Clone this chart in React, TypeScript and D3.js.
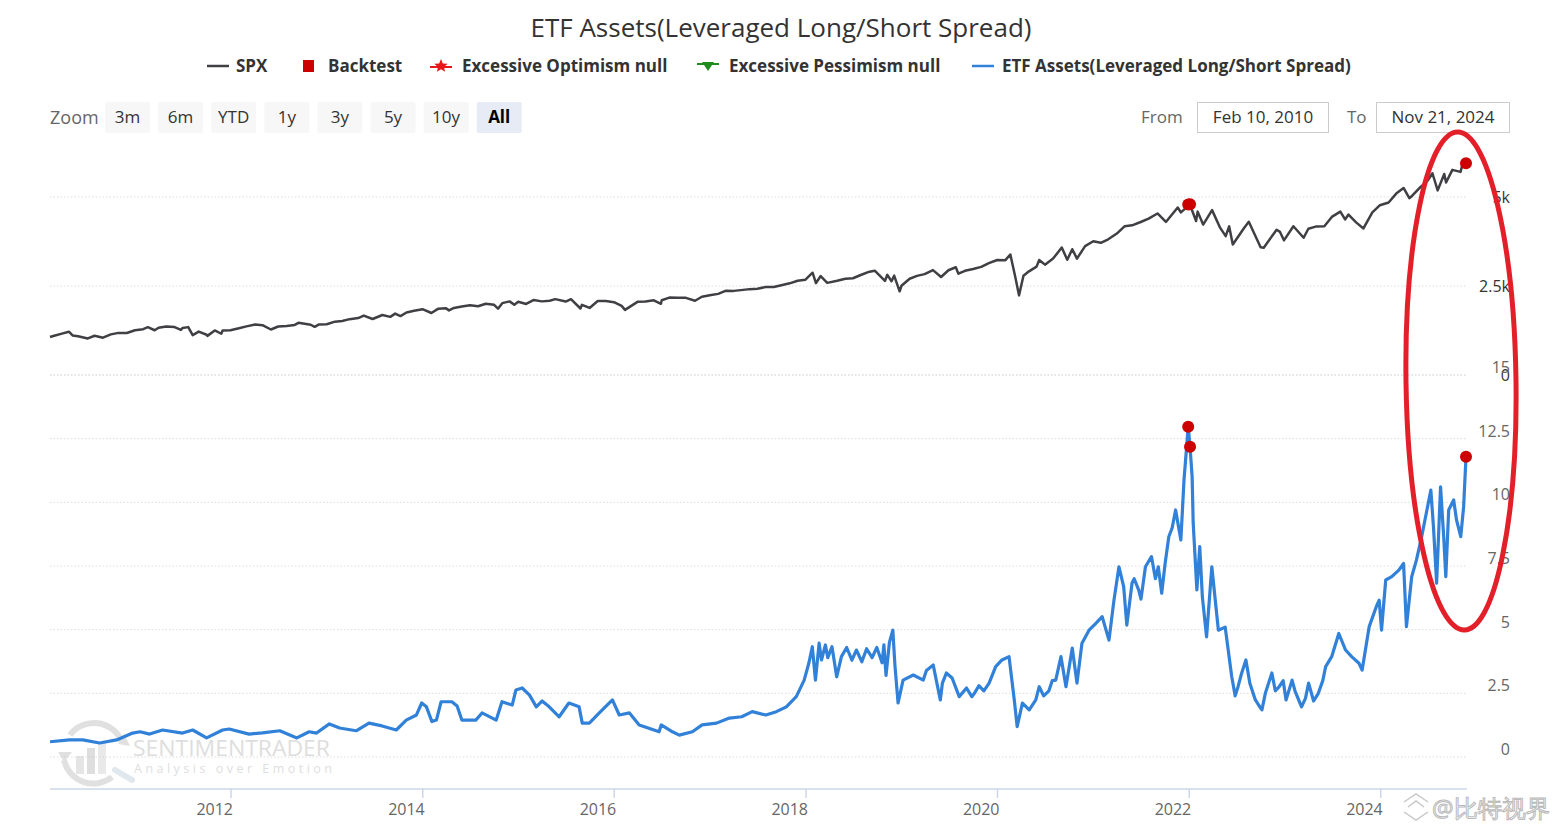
import React from "react";
import * as d3 from "d3";

const startDate = "2010-02-10";
const endDate = "2024-11-21";

const spx: [string, number][] = [
  ["2010-02-10", 1068], ["2010-02-26", 1104], ["2010-03-31", 1169], ["2010-04-23", 1217], ["2010-05-07", 1111],
  ["2010-05-28", 1089], ["2010-06-30", 1031], ["2010-07-02", 1022], ["2010-07-30", 1102], ["2010-08-31", 1049],
  ["2010-09-30", 1141], ["2010-10-29", 1183], ["2010-11-30", 1181], ["2010-12-31", 1258], ["2011-01-31", 1286],
  ["2011-02-18", 1343], ["2011-03-16", 1257], ["2011-03-31", 1326], ["2011-04-29", 1364], ["2011-05-31", 1345],
  ["2011-06-24", 1268], ["2011-06-30", 1321], ["2011-07-22", 1345], ["2011-08-08", 1119], ["2011-08-31", 1219],
  ["2011-09-30", 1131], ["2011-10-03", 1099], ["2011-10-31", 1253], ["2011-11-25", 1159], ["2011-11-30", 1247],
  ["2011-12-30", 1258], ["2012-01-31", 1312], ["2012-02-29", 1366], ["2012-04-02", 1419], ["2012-04-30", 1398],
  ["2012-06-01", 1278], ["2012-06-29", 1362], ["2012-07-31", 1379], ["2012-08-31", 1407], ["2012-09-14", 1465],
  ["2012-10-31", 1412], ["2012-11-15", 1353], ["2012-11-30", 1416], ["2012-12-31", 1426], ["2013-01-31", 1498],
  ["2013-02-28", 1515], ["2013-03-28", 1569], ["2013-04-30", 1598], ["2013-05-21", 1669], ["2013-06-24", 1573],
  ["2013-07-31", 1686], ["2013-08-30", 1633], ["2013-09-18", 1725], ["2013-10-08", 1655], ["2013-10-31", 1757],
  ["2013-11-29", 1806], ["2013-12-31", 1848], ["2014-02-03", 1742], ["2014-02-28", 1859], ["2014-03-31", 1872],
  ["2014-04-11", 1815], ["2014-04-30", 1884], ["2014-05-30", 1924], ["2014-06-30", 1960], ["2014-07-31", 1931],
  ["2014-08-29", 2003], ["2014-09-30", 1972], ["2014-10-15", 1862], ["2014-10-31", 2018], ["2014-11-28", 2068],
  ["2014-12-16", 1973], ["2014-12-31", 2059], ["2015-01-30", 1995], ["2015-02-27", 2105], ["2015-03-31", 2068],
  ["2015-04-30", 2086], ["2015-05-21", 2131], ["2015-06-30", 2063], ["2015-07-20", 2129], ["2015-08-25", 1868],
  ["2015-08-31", 1972], ["2015-09-29", 1884], ["2015-10-30", 2079], ["2015-11-30", 2080], ["2015-12-31", 2044],
  ["2016-01-29", 1940], ["2016-02-11", 1829], ["2016-03-31", 2060], ["2016-04-29", 2065], ["2016-05-31", 2097],
  ["2016-06-27", 2001], ["2016-06-30", 2099], ["2016-07-29", 2174], ["2016-08-31", 2171], ["2016-09-30", 2168],
  ["2016-11-04", 2085], ["2016-11-30", 2199], ["2016-12-30", 2239], ["2017-01-31", 2279], ["2017-02-28", 2364],
  ["2017-03-31", 2363], ["2017-04-28", 2384], ["2017-05-31", 2412], ["2017-06-30", 2423], ["2017-07-31", 2470],
  ["2017-08-31", 2472], ["2017-09-29", 2519], ["2017-10-31", 2575], ["2017-11-30", 2648], ["2017-12-29", 2674],
  ["2018-01-26", 2873], ["2018-02-08", 2581], ["2018-02-26", 2780], ["2018-03-23", 2588], ["2018-04-30", 2648],
  ["2018-05-31", 2705], ["2018-06-29", 2718], ["2018-07-31", 2816], ["2018-08-31", 2902], ["2018-09-20", 2931],
  ["2018-10-29", 2641], ["2018-11-07", 2814], ["2018-11-23", 2633], ["2018-12-03", 2790], ["2018-12-24", 2351],
  ["2018-12-31", 2507], ["2019-01-31", 2704], ["2019-02-28", 2784], ["2019-03-29", 2834], ["2019-04-30", 2946],
  ["2019-05-31", 2752], ["2019-06-28", 2942], ["2019-07-26", 3026], ["2019-08-05", 2845], ["2019-08-30", 2926],
  ["2019-09-30", 2977], ["2019-10-31", 3038], ["2019-11-29", 3141], ["2019-12-31", 3231], ["2020-01-31", 3226],
  ["2020-02-19", 3386], ["2020-03-09", 2747], ["2020-03-23", 2237], ["2020-04-09", 2790], ["2020-04-30", 2912],
  ["2020-05-29", 3044], ["2020-06-08", 3232], ["2020-06-30", 3100], ["2020-07-31", 3271], ["2020-09-02", 3580],
  ["2020-09-23", 3237], ["2020-10-12", 3534], ["2020-10-30", 3270], ["2020-11-30", 3622], ["2020-12-31", 3756],
  ["2021-01-29", 3714], ["2021-02-26", 3811], ["2021-03-31", 3973], ["2021-04-30", 4181], ["2021-05-28", 4204],
  ["2021-06-30", 4298], ["2021-07-30", 4395], ["2021-09-02", 4537], ["2021-10-04", 4300], ["2021-11-18", 4705],
  ["2021-11-30", 4567], ["2021-12-31", 4766], ["2022-01-03", 4797], ["2022-01-27", 4326], ["2022-02-02", 4589],
  ["2022-02-23", 4225], ["2022-03-29", 4631], ["2022-04-29", 4132], ["2022-05-20", 3901], ["2022-06-02", 4176],
  ["2022-06-16", 3667], ["2022-07-29", 4130], ["2022-08-16", 4305], ["2022-09-30", 3586], ["2022-10-12", 3577],
  ["2022-11-30", 4080], ["2022-12-13", 4019], ["2022-12-28", 3783], ["2023-02-02", 4179], ["2023-03-13", 3855],
  ["2023-03-31", 4109], ["2023-04-28", 4169], ["2023-05-31", 4180], ["2023-06-30", 4450], ["2023-07-31", 4589],
  ["2023-08-18", 4370], ["2023-08-31", 4508], ["2023-09-29", 4288], ["2023-10-27", 4117], ["2023-11-30", 4568],
  ["2023-12-29", 4770], ["2024-01-31", 4846], ["2024-02-29", 5096], ["2024-03-28", 5254], ["2024-04-19", 4967],
  ["2024-04-30", 5036], ["2024-05-31", 5278], ["2024-06-28", 5460], ["2024-07-16", 5667], ["2024-08-05", 5186],
  ["2024-08-30", 5648], ["2024-09-06", 5408], ["2024-09-30", 5762], ["2024-10-31", 5705], ["2024-11-11", 6001],
  ["2024-11-15", 5870], ["2024-11-21", 5948],
];

const etf: [string, number][] = [
  ["2010-02-10", 0.60], ["2010-04-25", 0.67], ["2010-06-15", 0.67], ["2010-08-18", 0.55], ["2010-10-22", 0.67],
  ["2010-12-22", 0.94], ["2011-01-19", 0.99], ["2011-02-25", 0.90], ["2011-04-15", 1.06], ["2011-06-30", 0.94],
  ["2011-08-08", 1.06], ["2011-09-30", 0.75], ["2011-11-30", 1.06], ["2011-12-25", 1.10], ["2012-03-10", 0.90],
  ["2012-04-30", 0.95], ["2012-07-05", 1.03], ["2012-09-08", 0.75], ["2012-10-25", 0.99], ["2012-11-22", 0.94],
  ["2013-01-10", 1.30], ["2013-02-18", 1.14], ["2013-04-22", 1.03], ["2013-06-10", 1.33], ["2013-07-30", 1.22],
  ["2013-09-22", 1.06], ["2013-10-30", 1.45], ["2013-12-08", 1.65], ["2013-12-28", 2.12], ["2014-01-15", 1.97],
  ["2014-02-05", 1.39], ["2014-02-22", 1.45], ["2014-03-12", 2.17], ["2014-04-22", 2.17], ["2014-05-12", 2.00],
  ["2014-05-30", 1.45], ["2014-07-22", 1.45], ["2014-08-15", 1.73], ["2014-10-08", 1.45], ["2014-10-30", 2.17],
  ["2014-12-08", 2.04], ["2014-12-22", 2.63], ["2015-01-15", 2.71], ["2015-02-12", 2.43], ["2015-03-10", 1.97],
  ["2015-04-01", 2.20], ["2015-04-28", 1.97], ["2015-06-05", 1.58], ["2015-07-12", 2.12], ["2015-08-20", 1.97],
  ["2015-09-01", 1.33], ["2015-09-28", 1.33], ["2015-11-05", 1.73], ["2015-12-25", 2.24], ["2016-01-20", 1.65],
  ["2016-02-28", 1.73], ["2016-04-05", 1.26], ["2016-05-12", 1.13], ["2016-06-20", 0.99], ["2016-06-28", 1.26],
  ["2016-08-10", 0.99], ["2016-09-05", 0.86], ["2016-10-25", 0.99], ["2016-12-01", 1.26], ["2017-01-25", 1.33],
  ["2017-03-15", 1.53], ["2017-05-01", 1.58], ["2017-06-10", 1.78], ["2017-08-01", 1.65], ["2017-09-10", 1.78],
  ["2017-10-18", 1.97], ["2017-11-25", 2.37], ["2017-12-25", 3.02], ["2018-01-12", 3.69], ["2018-01-25", 4.33],
  ["2018-02-06", 3.02], ["2018-02-20", 4.47], ["2018-03-01", 3.81], ["2018-03-16", 4.40], ["2018-03-25", 3.90],
  ["2018-04-10", 4.33], ["2018-04-28", 3.15], ["2018-05-16", 3.94], ["2018-06-05", 4.30], ["2018-06-25", 3.80],
  ["2018-07-12", 4.20], ["2018-08-02", 3.74], ["2018-08-20", 4.25], ["2018-09-10", 3.90], ["2018-09-28", 4.30],
  ["2018-10-18", 3.70], ["2018-10-25", 4.40], ["2018-11-02", 3.20], ["2018-11-15", 4.50], ["2018-11-28", 4.98],
  ["2018-12-06", 3.60], ["2018-12-18", 2.12], ["2019-01-06", 3.02], ["2019-02-14", 3.22], ["2019-03-24", 3.02],
  ["2019-04-05", 3.40], ["2019-05-01", 3.61], ["2019-05-28", 2.24], ["2019-06-05", 2.90], ["2019-06-20", 3.30],
  ["2019-07-12", 3.10], ["2019-08-08", 2.37], ["2019-09-05", 2.71], ["2019-09-25", 2.37], ["2019-10-05", 2.50],
  ["2019-10-22", 2.80], ["2019-11-10", 2.60], ["2019-11-30", 2.90], ["2019-12-25", 3.55],
  ["2020-01-18", 3.81], ["2020-02-14", 3.94], ["2020-03-05", 2.24], ["2020-03-16", 1.19], ["2020-04-05", 2.12],
  ["2020-05-01", 1.85], ["2020-05-26", 2.24], ["2020-06-08", 2.76], ["2020-06-25", 2.40], ["2020-07-15", 2.60],
  ["2020-07-28", 3.00], ["2020-08-10", 3.02],
  ["2020-08-30", 3.94], ["2020-09-18", 2.76], ["2020-10-12", 4.28], ["2020-10-30", 2.90], ["2020-11-18", 4.47],
  ["2020-12-15", 4.98], ["2021-01-10", 5.25], ["2021-02-03", 5.51], ["2021-03-01", 4.59], ["2021-03-20", 6.16],
  ["2021-04-08", 7.47], ["2021-04-26", 6.69], ["2021-05-08", 5.18], ["2021-05-28", 6.83], ["2021-06-05", 7.00],
  ["2021-06-22", 6.56], ["2021-07-01", 6.20], ["2021-07-18", 7.47], ["2021-08-10", 7.87], ["2021-08-25", 7.00],
  ["2021-09-05", 7.47], ["2021-09-18", 6.43], ["2021-10-01", 7.60], ["2021-10-15", 8.65], ["2021-10-28", 9.00],
  ["2021-11-10", 9.70], ["2021-11-30", 8.52], ["2021-12-12", 10.88], ["2021-12-22", 12.18], ["2021-12-28", 12.97],
  ["2022-01-04", 12.18], ["2022-01-12", 11.00], ["2022-01-16", 9.19], ["2022-01-30", 6.56], ["2022-02-10", 8.26],
  ["2022-02-20", 6.29], ["2022-03-08", 4.72], ["2022-03-28", 7.47], ["2022-04-22", 4.98], ["2022-05-18", 5.10],
  ["2022-06-12", 3.15], ["2022-06-25", 2.40], ["2022-07-06", 2.76], ["2022-07-20", 3.30], ["2022-08-05", 3.81],
  ["2022-08-20", 2.90], ["2022-09-10", 2.24], ["2022-09-30", 1.92], ["2022-10-05", 1.85],
  ["2022-10-18", 2.50], ["2022-11-12", 3.30], ["2022-11-25", 2.60], ["2022-12-10", 2.76], ["2022-12-25", 3.00],
  ["2023-01-05", 2.24], ["2023-01-28", 3.02], ["2023-02-08", 2.60],
  ["2023-02-22", 2.24], ["2023-03-05", 1.97], ["2023-03-20", 2.30], ["2023-04-01", 2.90], ["2023-04-20", 2.20],
  ["2023-05-08", 2.50], ["2023-05-25", 3.00], ["2023-06-05", 3.55],
  ["2023-06-28", 3.94], ["2023-07-25", 4.85], ["2023-08-20", 4.20], ["2023-09-12", 3.94], ["2023-10-10", 3.68],
  ["2023-10-22", 3.41], ["2023-11-18", 5.12], ["2023-12-15", 5.90], ["2023-12-26", 6.16], ["2024-01-04", 4.98],
  ["2024-01-20", 6.95], ["2024-02-12", 7.08], ["2024-03-10", 7.34], ["2024-03-28", 7.60], ["2024-04-08", 5.12],
  ["2024-04-28", 7.08], ["2024-05-16", 7.73], ["2024-06-05", 8.65], ["2024-06-25", 9.70], ["2024-07-10", 10.48],
  ["2024-07-20", 9.04], ["2024-08-01", 6.83], ["2024-08-16", 10.61], ["2024-08-28", 8.65], ["2024-09-05", 7.08],
  ["2024-09-16", 9.70], ["2024-10-05", 10.09], ["2024-10-16", 9.30], ["2024-11-01", 8.65], ["2024-11-12", 9.83],
  ["2024-11-21", 11.79],
];

const backtestDates = ["2021-12-28", "2022-01-04", "2024-11-21"];
const backtestSpx = [4791, 4797, 5948];
const backtestEtf = [12.97, 12.18, 11.79];

const yearTicks = [2012, 2014, 2016, 2018, 2020, 2022, 2024];
const spxTicks = [0, 2500, 5000];
const spxTickLabels = ["0", "2.5k", "5k"];
const etfTicks = [0, 2.5, 5, 7.5, 10, 12.5, 15];
const etfTickLabels = ["0", "2.5", "5", "7.5", "10", "12.5", "15"];

const title = "ETF Assets(Leveraged Long/Short Spread)";
const legendLabels = ["SPX", "Backtest", "Excessive Optimism null", "Excessive Pessimism null", "ETF Assets(Leveraged Long/Short Spread)"];
const zoomButtons = ["3m", "6m", "YTD", "1y", "3y", "5y", "10y", "All"];
const fromLabel = "Feb 10, 2010";
const toLabel = "Nov 21, 2024";

const FONT = "'Open Sans', 'Noto Sans', sans-serif";
const SPX_COLOR = "#404044";
const ETF_COLOR = "#3181d8";
const RED = "#cc0000";

export default function App() {
  const parse = d3.timeParse("%Y-%m-%d");
  const x = d3.scaleTime().domain([parse(startDate)!, parse(endDate)!]).range([50, 1466]);
  const ySpx = d3.scaleLinear().domain([0, 5000]).range([375, 197]);
  const yEtf = d3.scaleLinear().domain([0, 15]).range([757, 375]);

  const spxLine = d3.line<[string, number]>().x((d) => x(parse(d[0])!)).y((d) => ySpx(d[1]));
  const etfLine = d3.line<[string, number]>().x((d) => x(parse(d[0])!)).y((d) => yEtf(d[1]));

  const legendSymbolX = [207, 303, 430, 697, 972];
  const legendTextX = [236, 328, 462, 729, 1002];
  const legendY = 66;

  const starPath = (cx: number, cy: number, r: number) => {
    const pts: string[] = [];
    for (let i = 0; i < 10; i++) {
      const a = -Math.PI / 2 + (i * Math.PI) / 5;
      const rr = i % 2 === 0 ? r : r * 0.45;
      pts.push(`${cx + rr * Math.cos(a)},${cy + rr * Math.sin(a)}`);
    }
    return "M" + pts.join("L") + "Z";
  };

  return (
    <svg width={1560} height={833} style={{ position: "absolute", left: 0, top: 0, background: "#fff" }} fontFamily={FONT}>
      <rect width={1560} height={833} fill="#fff" />
      {/* Title */}
      <text x={781} y={37} textAnchor="middle" fontSize={26} fill="#333">{title}</text>

      {/* Legend */}
      <g fontSize={17} fontWeight={700} fill="#333">
        <line x1={legendSymbolX[0]} x2={legendSymbolX[0] + 22} y1={legendY} y2={legendY} stroke={SPX_COLOR} strokeWidth={2.5} />
        <text x={legendTextX[0]} y={legendY + 6}>{legendLabels[0]}</text>
        <rect x={legendSymbolX[1]} y={legendY - 6} width={11} height={12} fill={RED} />
        <text x={legendTextX[1]} y={legendY + 6}>{legendLabels[1]}</text>
        <line x1={legendSymbolX[2]} x2={legendSymbolX[2] + 22} y1={legendY + 1} y2={legendY + 1} stroke="#e8151b" strokeWidth={2} />
        <path d={starPath(legendSymbolX[2] + 11, legendY, 7)} fill="#e8151b" />
        <text x={legendTextX[2]} y={legendY + 6}>{legendLabels[2]}</text>
        <line x1={legendSymbolX[3]} x2={legendSymbolX[3] + 22} y1={legendY - 2} y2={legendY - 2} stroke="#1e8c1e" strokeWidth={2} />
        <path d={`M${legendSymbolX[3] + 5},${legendY - 4} L${legendSymbolX[3] + 17},${legendY - 4} L${legendSymbolX[3] + 11},${legendY + 5} Z`} fill="#1e8c1e" />
        <text x={legendTextX[3]} y={legendY + 6}>{legendLabels[3]}</text>
        <line x1={legendSymbolX[4]} x2={legendSymbolX[4] + 22} y1={legendY} y2={legendY} stroke={ETF_COLOR} strokeWidth={2.5} />
        <text x={legendTextX[4]} y={legendY + 6}>{legendLabels[4]}</text>
      </g>

      {/* Range selector */}
      <text x={50} y={124} fontSize={18} fill="#666">Zoom</text>
      {zoomButtons.map((b, i) => {
        const bx = 105 + i * 53.1;
        const active = b === "All";
        return (
          <g key={b}>
            <rect x={bx} y={102} width={45} height={31} rx={2} fill={active ? "#e6ebf5" : "#f7f7f7"} />
            <text x={bx + 22.5} y={123} textAnchor="middle" fontSize={17} fill={active ? "#000" : "#333"} fontWeight={active ? 700 : 400}>{b}</text>
          </g>
        );
      })}
      <text x={1141} y={123} fontSize={17} fill="#666">From</text>
      <rect x={1197.5} y={102.5} width={131} height={30} fill="#fff" stroke="#ccc" />
      <text x={1263} y={123} textAnchor="middle" fontSize={17} fill="#333">{fromLabel}</text>
      <text x={1347} y={123} fontSize={17} fill="#666">To</text>
      <rect x={1376.5} y={102.5} width={133} height={30} fill="#fff" stroke="#ccc" />
      <text x={1443} y={123} textAnchor="middle" fontSize={17} fill="#333">{toLabel}</text>

      {/* Grid lines */}
      <g stroke="#dcdcdc" strokeWidth={1} strokeDasharray="1.5,2">
        {spxTicks.map((t) => (
          <line key={"gs" + t} x1={50} x2={1467} y1={ySpx(t)} y2={ySpx(t)} />
        ))}
        {etfTicks.map((t) => (
          <line key={"ge" + t} x1={50} x2={1467} y1={yEtf(t)} y2={yEtf(t)} />
        ))}
      </g>

      {/* Watermark: SENTIMENTRADER */}
      <g opacity={0.55}>
        <path d="M 70 735 A 30 30 0 0 1 122 742" fill="none" stroke="#c8c8c8" strokeWidth={6} />
        <path d="M 64 760 A 30 30 0 0 0 112 777" fill="none" stroke="#c8c8c8" strokeWidth={6} />
        <path d="M 58 752 L 64 762 L 72 752 Z" fill="#c8c8c8" />
        <path d="M 118 744 L 124 734 L 130 746 Z" fill="#c8c8c8" />
        <rect x={76} y={756} width={8} height={18} fill="#d0d0d0" />
        <rect x={87} y={748} width={8} height={26} fill="#c4c4c4" />
        <rect x={98} y={742} width={8} height={32} fill="#d8d8d8" />
        <line x1={115} y1={770} x2={132} y2={780} stroke="#c8d4e0" strokeWidth={6} strokeLinecap="round" />
        <text x={133} y={756} fontSize={21} fill="#c4c4c4" textLength={197} lengthAdjust="spacingAndGlyphs">SENTIMENTRADER</text>
        <text x={134} y={773} fontSize={12.5} fill="#c4c4c4" textLength={198} lengthAdjust="spacing">Analysis over Emotion</text>
      </g>

      {/* Series */}
      <path d={spxLine(spx) || ""} fill="none" stroke={SPX_COLOR} strokeWidth={2.5} strokeLinejoin="round" />
      <path d={etfLine(etf) || ""} fill="none" stroke={ETF_COLOR} strokeWidth={3.2} strokeLinejoin="round" />

      {/* Backtest markers */}
      {backtestDates.map((d, i) => (
        <g key={"bt" + i}>
          <circle cx={x(parse(d)!)} cy={ySpx(backtestSpx[i])} r={6} fill={RED} />
          <circle cx={x(parse(d)!)} cy={yEtf(backtestEtf[i])} r={6} fill={RED} />
        </g>
      ))}

      {/* Y axis labels */}
      <g fontSize={16} textAnchor="end">
        {spxTicks.map((t, i) => (
          <text key={"ls" + t} x={1510} y={ySpx(t) + 6} fill="#333">{spxTickLabels[i]}</text>
        ))}
        {etfTicks.map((t, i) => (
          <text key={"le" + t} x={1510} y={yEtf(t) - 2} fill="#666">{etfTickLabels[i]}</text>
        ))}
      </g>

      {/* X axis */}
      <line x1={50} x2={1467} y1={789} y2={789} stroke="#ccd6eb" strokeWidth={1.5} />
      {yearTicks.map((yr) => {
        const tx = x(new Date(yr, 0, 1));
        return (
          <g key={yr}>
            <line x1={tx} x2={tx} y1={789} y2={798} stroke="#ccd6eb" strokeWidth={1.5} />
            <text x={tx + 2} y={815} textAnchor="end" fontSize={16} fill="#666">{yr}</text>
          </g>
        );
      })}

      {/* Hand-drawn annotation */}
      <ellipse cx={1461} cy={381} rx={55} ry={249} fill="none" stroke="#e3202a" strokeWidth={5} transform="rotate(-0.8 1461 381)" />

      {/* Bottom-right watermark */}
      <g opacity={0.8}>
        <path d="M1404,802 L1416,794 L1428,802 M1408,807 L1416,801 L1424,807 M1404,812 L1416,820 L1428,812" fill="none" stroke="#bbb" strokeWidth={1.5} />
        <text x={1432} y={817} fontSize={24} fill="#fff" stroke="#aaa" strokeWidth={1}>@比特视界</text>
      </g>
    </svg>
  );
}
